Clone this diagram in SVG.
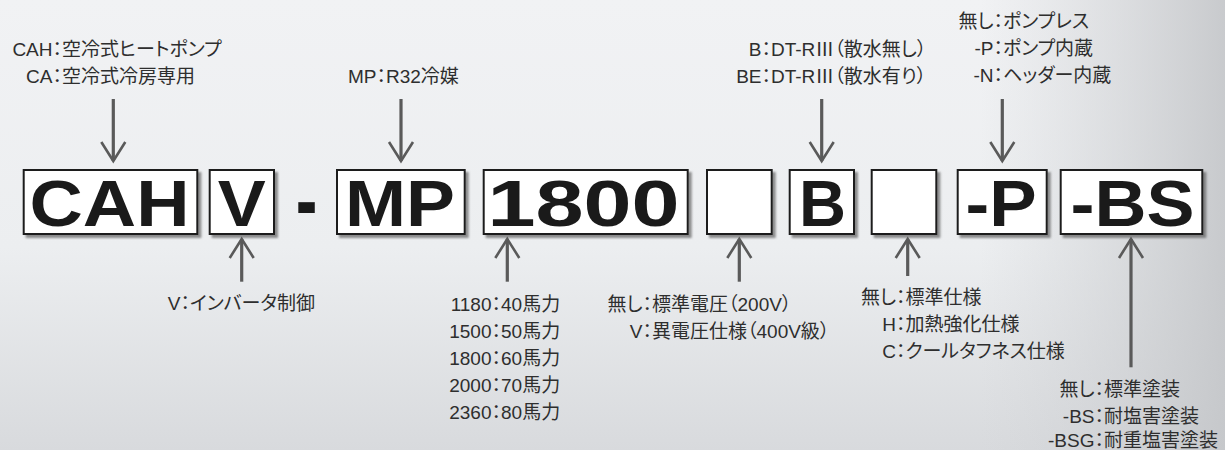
<svg xmlns="http://www.w3.org/2000/svg" width="1225" height="450" viewBox="0 0 1225 450">
<style>
.lbl{font-family:"Liberation Sans","Noto Sans CJK JP",sans-serif;font-size:19px;fill:#2e2e2e;font-feature-settings:"palt"}
.cjk{font-family:"Noto Sans CJK JP",sans-serif}
.big{font-family:"Liberation Sans",Arial,sans-serif;font-weight:bold;font-size:65px;fill:#1a1a1a;text-anchor:middle}
.box{fill:#fff;stroke:#1e1e1e;stroke-width:2;filter:url(#sh)}
.arr{stroke:#5a5a5a;stroke-width:3.2;fill:none;marker-end:url(#ah)}
.e{text-anchor:end}
</style>
<defs>
<linearGradient id="bgv" x1="0" y1="0" x2="0" y2="1">
<stop offset="0" stop-color="#f1f2f4"/>
<stop offset="0.55" stop-color="#eceef0"/>
<stop offset="1" stop-color="#d8dadd"/>
</linearGradient>
<linearGradient id="bgh" x1="0" y1="0" x2="1" y2="0">
<stop offset="0" stop-color="#d0d2d5" stop-opacity="0"/>
<stop offset="0.8" stop-color="#d0d2d5" stop-opacity="0"/>
<stop offset="1" stop-color="#c4c6c9" stop-opacity="0.9"/>
</linearGradient>
<filter id="sh" x="-10%" y="-10%" width="130%" height="130%">
<feDropShadow dx="3" dy="3" stdDeviation="0.8" flood-color="#555" flood-opacity="0.65"/>
</filter>
<marker id="ah" markerUnits="userSpaceOnUse" markerWidth="30" markerHeight="30" viewBox="-22 -15 26 30" refX="0" refY="0" orient="auto">
<path d="M-19,-12 L0,0 L-19,12" fill="none" stroke="#5a5a5a" stroke-width="2.6"/>
</marker>
</defs>
<rect width="1225" height="450" fill="url(#bgv)"/>
<rect width="1225" height="450" fill="url(#bgh)"/>

<g id="connectors">
<line class="arr" x1="113.3" y1="99" x2="113.3" y2="161"/>
<line class="arr" x1="401" y1="99" x2="401" y2="161"/>
<line class="arr" x1="821.7" y1="99" x2="821.7" y2="161"/>
<line class="arr" x1="1002.3" y1="99" x2="1002.3" y2="161"/>
<line class="arr" x1="241.7" y1="281.7" x2="241.7" y2="239"/>
<line class="arr" x1="507.3" y1="281.7" x2="507.3" y2="239"/>
<line class="arr" x1="739.3" y1="281.7" x2="739.3" y2="239"/>
<line class="arr" x1="907.7" y1="276" x2="907.7" y2="239"/>
<line class="arr" x1="1131" y1="367.3" x2="1131" y2="239"/>
</g>

<g id="box-cah"><rect class="box" x="23.7" y="170" width="173.6" height="64"/><text class="big" x="109.5" y="226" textLength="160" lengthAdjust="spacingAndGlyphs">CAH</text></g>
<g id="box-v"><rect class="box" x="209.7" y="170" width="64.3" height="64"/><text class="big" x="241.7" y="226" textLength="48" lengthAdjust="spacingAndGlyphs">V</text></g>
<g id="dash"><text class="big" x="306.7" y="226" transform="translate(0,-85.5) scale(1,1.4)">-</text></g>
<g id="box-mp"><rect class="box" x="337" y="170" width="127.7" height="64"/><text class="big" x="400" y="226" textLength="110" lengthAdjust="spacingAndGlyphs">MP</text></g>
<g id="box-1800"><rect class="box" x="483.7" y="170" width="204" height="64"/><text class="big" x="583.5" y="226" textLength="192" lengthAdjust="spacingAndGlyphs">1800</text></g>
<g id="box-e1"><rect class="box" x="707" y="170" width="64.7" height="64"/></g>
<g id="box-b"><rect class="box" x="789.7" y="170" width="64.3" height="64"/><text class="big" x="822.5" y="226" textLength="47" lengthAdjust="spacingAndGlyphs">B</text></g>
<g id="box-e2"><rect class="box" x="871.7" y="170" width="64.6" height="64"/></g>
<g id="box-p"><rect class="box" x="957.7" y="170" width="89" height="64"/><text class="big" x="1001" y="226" textLength="71" lengthAdjust="spacingAndGlyphs">-P</text></g>
<g id="box-bs"><rect class="box" x="1060.7" y="170" width="141.6" height="64"/><text class="big" x="1132.5" y="226" textLength="124" lengthAdjust="spacingAndGlyphs">-BS</text></g>

<g id="label-cah">
<text class="lbl" y="55.5"><tspan class="e" x="62">CAH：</tspan><tspan x="62">空冷式ヒートポンプ</tspan></text>
<text class="lbl" y="83"><tspan class="e" x="62">CA：</tspan><tspan x="62">空冷式冷房専用</tspan></text>
</g>
<g id="label-mp">
<text class="lbl" y="83"><tspan class="e" x="386">MP：</tspan><tspan x="386">R32冷媒</tspan></text>
</g>
<g id="label-b">
<text class="lbl" y="56"><tspan class="e" x="771">B：</tspan><tspan x="771">DT-R<tspan class="cjk">Ⅲ（散水無し）</tspan></tspan></text>
<text class="lbl" y="83"><tspan class="e" x="771">BE：</tspan><tspan x="771">DT-R<tspan class="cjk">Ⅲ（散水有り）</tspan></tspan></text>
</g>
<g id="label-p">
<text class="lbl" y="28"><tspan class="e" x="1003">無し：</tspan><tspan x="1003">ポンプレス</tspan></text>
<text class="lbl" y="55"><tspan class="e" x="1003">-P：</tspan><tspan x="1003">ポンプ内蔵</tspan></text>
<text class="lbl" y="82"><tspan class="e" x="1003">-N：</tspan><tspan x="1003">ヘッダー内蔵</tspan></text>
</g>
<g id="label-v">
<text class="lbl" y="309.5"><tspan class="e" x="190">V：</tspan><tspan x="190">インバータ制御</tspan></text>
</g>
<g id="label-hp">
<text class="lbl" y="311"><tspan class="e" x="501">1180：</tspan><tspan x="501">40馬力</tspan></text>
<text class="lbl" y="338"><tspan class="e" x="501">1500：</tspan><tspan x="501">50馬力</tspan></text>
<text class="lbl" y="365"><tspan class="e" x="501">1800：</tspan><tspan x="501">60馬力</tspan></text>
<text class="lbl" y="392"><tspan class="e" x="501">2000：</tspan><tspan x="501">70馬力</tspan></text>
<text class="lbl" y="418.5"><tspan class="e" x="501">2360：</tspan><tspan x="501">80馬力</tspan></text>
</g>
<g id="label-volt">
<text class="lbl" y="311"><tspan class="e" x="652">無し：</tspan><tspan x="652">標準電圧（200V）</tspan></text>
<text class="lbl" y="338"><tspan class="e" x="652">V：</tspan><tspan x="652">異電圧仕様（400V級）</tspan></text>
</g>
<g id="label-spec">
<text class="lbl" y="304"><tspan class="e" x="905.5">無し：</tspan><tspan x="905.5">標準仕様</tspan></text>
<text class="lbl" y="331"><tspan class="e" x="905.5">H：</tspan><tspan x="905.5">加熱強化仕様</tspan></text>
<text class="lbl" y="357.5"><tspan class="e" x="905.5">C：</tspan><tspan x="905.5">クールタフネス仕様</tspan></text>
</g>
<g id="label-paint">
<text class="lbl" y="396"><tspan class="e" x="1104">無し：</tspan><tspan x="1104">標準塗装</tspan></text>
<text class="lbl" y="422.5"><tspan class="e" x="1104">-BS：</tspan><tspan x="1104">耐塩害塗装</tspan></text>
<text class="lbl" y="447"><tspan class="e" x="1104">-BSG：</tspan><tspan x="1104">耐重塩害塗装</tspan></text>
</g>
</svg>
